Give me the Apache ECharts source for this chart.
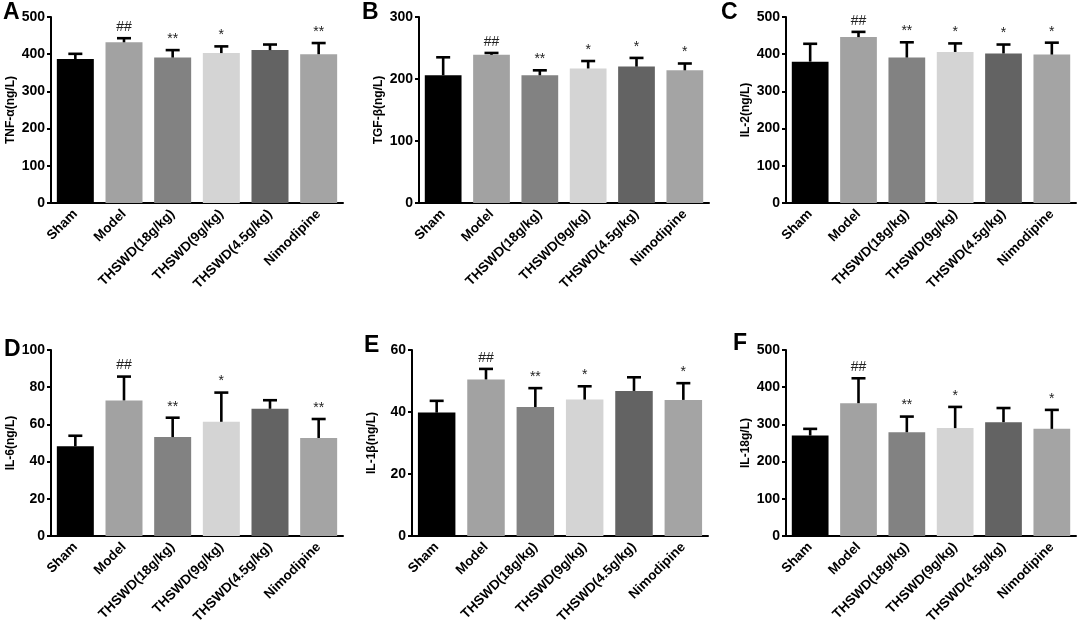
<!DOCTYPE html>
<html>
<head>
<meta charset="utf-8">
<script src="https://cdn.jsdelivr.net/npm/echarts@6/dist/echarts.min.js"></script>
<style>
html,body{margin:0;padding:0;background:#fff;}
#chart{width:1079px;height:629px;}
</style>
</head>
<body>
<div id="chart"></div>
<script>
var categories = ['Sham', 'Model', 'THSWD(18g/kg)', 'THSWD(9g/kg)', 'THSWD(4.5g/kg)', 'Nimodipine'];
var barColors = ['#000000', '#a2a2a2', '#828282', '#d4d4d4', '#636363', '#a4a4a4'];

var panelLetters = ['A', 'B', 'C', 'D', 'E', 'F'];
var axisNames = ['TNF-α(ng/L)', 'TGF-β(ng/L)', 'IL-2(ng/L)', 'IL-6(ng/L)', 'IL-1β(ng/L)', 'IL-18g/L)'];
var axisMax = [500, 300, 500, 100, 60, 500];
var axisInterval = [100, 100, 100, 20, 20, 100];

var tnfMean = [387, 432, 391, 403, 411, 400];
var tnfUpper = [401, 443, 411, 421, 426, 430];
var tgfMean = [206, 239, 206, 217, 220, 214];
var tgfUpper = [235, 242, 214, 229, 234, 225];
var il2Mean = [380, 446, 391, 406, 402, 399];
var il2Upper = [428, 460, 432, 429, 426, 431];
var il6Mean = [48.2, 72.9, 53.2, 61.4, 68.4, 52.7];
var il6Upper = [53.9, 85.7, 63.6, 77.1, 73.0, 62.9];
var il1bMean = [39.8, 50.5, 41.6, 44.0, 46.8, 43.9];
var il1bUpper = [43.6, 53.9, 47.7, 48.3, 51.2, 49.3];
var il18Mean = [270, 357, 279, 290, 306, 288];
var il18Upper = [288, 424, 321, 347, 344, 339];

var tnfMarks = ['', '##', '**', '*', '', '**'];
var tgfMarks = ['', '##', '**', '*', '*', '*'];
var il2Marks = ['', '##', '**', '*', '*', '*'];
var il6Marks = ['', '##', '**', '*', '', '**'];
var il1bMarks = ['', '##', '**', '*', '', '*'];
var il18Marks = ['', '##', '**', '*', '', '*'];

var means = [tnfMean, tgfMean, il2Mean, il6Mean, il1bMean, il18Mean];
var uppers = [tnfUpper, tgfUpper, il2Upper, il6Upper, il1bUpper, il18Upper];
var marks = [tnfMarks, tgfMarks, il2Marks, il6Marks, il1bMarks, il18Marks];

var FONT = 'Arial, "Liberation Sans", Helvetica, sans-serif';

var gridPos = [
  {left: 51, top: 17, width: 292, height: 186},
  {left: 419, top: 17, width: 290, height: 186},
  {left: 786, top: 17, width: 290, height: 186},
  {left: 51, top: 350, width: 292, height: 186},
  {left: 412, top: 350, width: 296, height: 186},
  {left: 786, top: 350, width: 290, height: 186}
];
var letterPos = [[3, 1], [362, 1], [721, 1], [4, 338], [364, 334], [733, 332]];

var grids = [], xAxes = [], yAxes = [], series = [], graphics = [];

for (var k = 0; k < 6; k++) {
  var g = gridPos[k];
  grids.push({left: g.left, top: g.top, width: g.width, height: g.height, containLabel: false});
  xAxes.push({
    type: 'category', gridIndex: k, data: categories,
    axisLine: {lineStyle: {color: '#000', width: 2}},
    axisTick: {alignWithLabel: true, length: 5, lineStyle: {color: '#000', width: 2}},
    axisLabel: {rotate: 45, interval: 0, margin: 9, color: '#000', fontWeight: 'bold', fontSize: 13.5, fontFamily: FONT}
  });
  yAxes.push({
    type: 'value', gridIndex: k, min: 0, max: axisMax[k], interval: axisInterval[k],
    name: axisNames[k], nameLocation: 'middle', nameGap: 34,
    nameTextStyle: {color: '#000', fontWeight: 'bold', fontSize: 12, fontFamily: FONT},
    axisLine: {show: true, lineStyle: {color: '#000', width: 2}},
    axisTick: {show: true, length: 4, lineStyle: {color: '#000', width: 2}},
    axisLabel: {margin: 6, color: '#000', fontWeight: 'bold', fontSize: 14, fontFamily: FONT},
    splitLine: {show: false}
  });
  var barData = means[k].map(function (v, i) {
    return {value: v, itemStyle: {color: barColors[i]}};
  });
  series.push({
    type: 'bar', xAxisIndex: k, yAxisIndex: k, data: barData,
    barCategoryGap: '24%', silent: true, animation: false, z: 2
  });
  var errData = means[k].map(function (v, i) { return [i, v, uppers[k][i]]; });
  (function (markList) {
    series.push({
      type: 'custom', xAxisIndex: k, yAxisIndex: k, data: errData, z: 3, animation: false, silent: true,
      encode: {x: 0, y: [1, 2]},
      renderItem: function (params, api) {
        var idx = api.value(0);
        var p0 = api.coord([idx, api.value(1)]);
        var p1 = api.coord([idx, api.value(2)]);
        var half = 7;
        return {
          type: 'group',
          children: [
            {type: 'line', shape: {x1: p0[0], y1: p0[1], x2: p1[0], y2: p1[1]}, style: {stroke: '#000', lineWidth: 2.6}},
            {type: 'line', shape: {x1: p1[0] - half, y1: p1[1], x2: p1[0] + half, y2: p1[1]}, style: {stroke: '#000', lineWidth: 2.6}},
            {type: 'text', style: {text: markList[params.dataIndex], x: p1[0], y: p1[1] - 4, align: 'center', verticalAlign: 'bottom', fill: '#222', font: '14px ' + FONT}}
          ]
        };
      }
    });
  })(marks[k]);
  graphics.push({
    type: 'text', left: letterPos[k][0], top: letterPos[k][1],
    style: {text: panelLetters[k], fill: '#000', font: 'bold 23px ' + FONT}
  });
}

var chart = echarts.init(document.getElementById('chart'), null, {renderer: 'canvas'});
chart.setOption({
  animation: false,
  backgroundColor: '#fff',
  grid: grids, xAxis: xAxes, yAxis: yAxes, series: series, graphic: graphics
});
</script>
</body>
</html>
